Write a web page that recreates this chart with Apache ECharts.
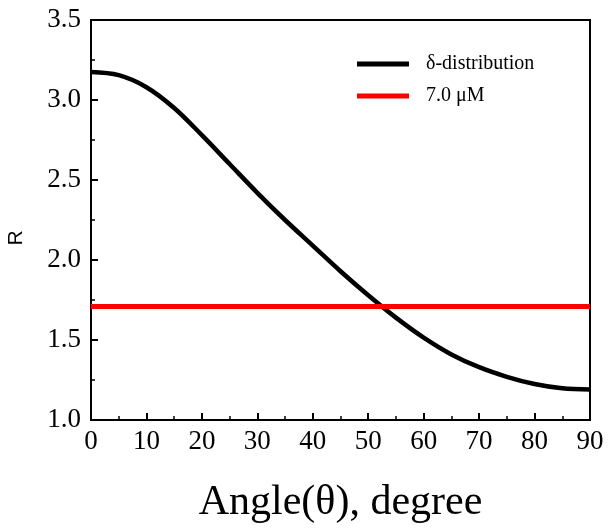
<!DOCTYPE html>
<html>
<head>
<meta charset="utf-8">
<script src="https://cdn.jsdelivr.net/npm/echarts@6/dist/echarts.min.js"></script>
<style>
  html, body { margin: 0; padding: 0; background: #fff; }
  #chart { width: 612px; height: 528px; }
</style>
</head>
<body>
<div id="chart"></div>
<script>
// angle in degrees and R values
var angles = [0, 5, 10, 15, 20, 25, 30, 35, 40, 45, 50, 55, 60, 65, 70, 75, 80, 85, 90];
var deltaR = [3.175, 3.155, 3.08, 2.95, 2.78, 2.60, 2.42, 2.25, 2.09, 1.93, 1.78, 1.64, 1.515, 1.41, 1.33, 1.27, 1.225, 1.198, 1.19];
var measuredAngles = [0, 90];
var measuredR = [1.71, 1.71];
var seriesNames = ["δ-distribution", "7.0 μM"];

var serif = "Liberation Serif";

var myChart = echarts.init(document.getElementById("chart"));
myChart.setOption({
  animation: false,
  grid: {
    left: 91,
    right: 22,
    top: 20,
    bottom: 108,
    outerBoundsMode: "none",
    containLabel: false,
    show: true,
    borderColor: "#000",
    borderWidth: 2,
  },
  legend: {
    orient: "vertical",
    left: 352,
    top: 49,
    itemWidth: 52,
    itemHeight: 5,
    itemGap: 12,
    icon: "rect",
    textStyle: { fontFamily: serif, fontSize: 20, color: "#000", padding: [0, 0, 0, 12] },
    data: seriesNames,
  },
  xAxis: {
    type: "value",
    min: 0,
    max: 90,
    interval: 10,
    name: "Angle(θ), degree",
    nameLocation: "middle",
    nameGap: 62,
    nameTextStyle: { fontFamily: serif, fontSize: 42, color: "#000" },
    axisLine: { onZero: false, lineStyle: { color: "#000", width: 2 } },
    axisTick: { inside: true, length: 7, lineStyle: { color: "#000", width: 2 } },
    minorTick: { show: true, splitNumber: 2, length: 4, lineStyle: { color: "#000", width: 1.5 } },
    axisLabel: { fontFamily: serif, fontSize: 27, color: "#000", margin: 8 },
    splitLine: { show: false },
  },
  yAxis: {
    type: "value",
    min: 1.0,
    max: 3.5,
    interval: 0.5,
    name: "R",
    nameLocation: "middle",
    nameGap: 64,
    nameTextStyle: { fontFamily: "Liberation Sans", fontSize: 21, color: "#000", padding: [0, 36, 0, 0] },
    axisLine: { onZero: false, lineStyle: { color: "#000", width: 2 } },
    axisTick: { inside: true, length: 7, lineStyle: { color: "#000", width: 2 } },
    minorTick: { show: true, splitNumber: 2, length: 4, lineStyle: { color: "#000", width: 1.5 } },
    axisLabel: {
      fontFamily: serif,
      fontSize: 27,
      color: "#000",
      margin: 10,
      formatter: function (v) { return v.toFixed(1); },
    },
    splitLine: { show: false },
  },
  series: [
    {
      name: seriesNames[0],
      type: "line",
      smooth: 0.35,
      showSymbol: false,
      color: "#000",
      lineStyle: { color: "#000", width: 4.5 },
      data: angles.map(function (a, i) { return [a, deltaR[i]]; }),
    },
    {
      name: seriesNames[1],
      type: "line",
      showSymbol: false,
      color: "#ff0000",
      lineStyle: { color: "#ff0000", width: 5 },
      data: measuredAngles.map(function (a, i) { return [a, measuredR[i]]; }),
    },
  ],
});
</script>
</body>
</html>
